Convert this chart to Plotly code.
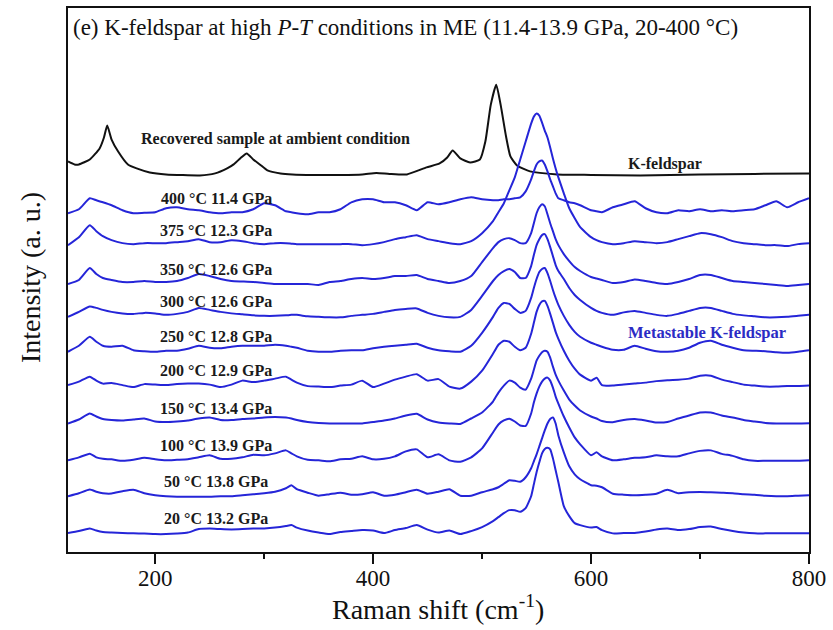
import plotly.graph_objects as go

# Raman shift grid (cm-1) shared by the in-situ spectra
shift = [120, 130, 140, 146, 152, 160, 170, 180, 190, 200,
         210, 220, 230, 240, 250, 260, 270, 280, 290, 300,
         310, 320, 325, 330, 340, 350, 360, 370, 380, 390,
         400, 410, 420, 430, 440, 450, 460, 470, 480, 490,
         500, 510, 515, 520, 525, 530, 535, 540, 545, 547.5,
         550, 552.5, 555, 557.5, 560, 562.5, 565, 567.5, 570, 575,
         580, 585, 590, 600, 605, 610, 620, 630, 640, 650,
         660, 670, 680, 690, 700, 710, 720, 730, 740, 750,
         760, 770, 780, 790, 800]

# In-situ spectra (a.u., baseline at zero)
int_400C = [0, 4, 15, 13, 11, 8, 3, 0, 0.5, 1,
            5, 6, 4, 3, 1, 0, 1, 1, 4, 10,
            8, 2, 1, 0, -1, 1, 1, 4, 11, 14,
            14, 11, 11, 8, 3, 11, 9, 11, 14, 16,
            14, 13, 13, 14, 14, 15, 16, 22, 34, 42,
            49, 52, 53, 49, 42, 34, 27, 20, 15, 13,
            11, 10, 8, 3, 2, 1, 6, 9, 12, 5,
            1, 0, 3, 2, 4, 2, 3, 2, 3, 4,
            8, 12, 6, 11, 15]
int_375C = [0, 8, 20, 14, 9, 5, 2, 1, 2, 2,
            2, 3, 4, 6, 3, 3, 5, 4, 2, 1,
            2, 2, 1.5, 1, 1, 1, 1, 1, 1, 0,
            1, 3, 6, 8, 10, 6, 4, 2, 1, 4,
            12, 24, 33, 42, 55, 68, 86, 104, 122, 129,
            132, 130, 123, 115, 108, 98, 87, 77, 68, 52,
            37, 27, 18, 8, 5, 3, 1, 2, 4, 3,
            2, 3, 6, 9, 12, 11, 8, 4, 2, 1,
            0, 0, -1, 1, 2]
int_350C = [0, 4, 16, 10, 6, 4, 2, 2, 3, 2,
            2, 3, 6, 10, 8, 5, 3, 2.5, 2, 1,
            0, 0, 0, 0, 0, -1, 2, 3, 5, 6,
            5, 6, 8, 8, 9, 5, 3, 1, 3, 8,
            22, 36, 42, 45, 46, 44, 41, 41, 51, 61,
            71, 77, 80, 78, 70, 61, 53, 45, 39, 30,
            23, 17, 13, 7, 5.5, 4, 1, 2, 4.5, 3,
            1, 0, 2, 5, 9, 9, 6, 3, 2, 1,
            0, -1, -2, -1, 0]
int_300C = [0, 5, 10.5, 9, 7, 5, 3.5, 3, 4, 3.5,
            2, 3, 5, 9, 7, 5, 3.5, 2.5, 1.5, 1,
            1, 1.5, 2, 2, 0.5, 0, -0.5, -0.5, 1, 2,
            3, 5, 7, 8, 8.5, 4, 1, -0.5, 0, 7,
            21, 36, 42, 46, 48, 45, 39, 39, 51, 62,
            72, 78, 82, 83, 78, 70, 61, 52, 46, 38,
            29, 22, 17, 9, 6, 4, 2, 4.5, 6, 4,
            2, 1, 3, 6, 9, 9, 6, 3, 1.5, 0.5,
            -0.5, -0.5, 0, 1, 2]
int_250C = [0, 6, 15, 10, 6, 5, 6, 1.5, 0.5, 0,
            1, 1, 3, 6, 4, 3.5, 5, 6, 6, 6,
            7, 6, 5, 4, 1, 0, 0, 1, 1.5, 1.5,
            3.5, 5, 6, 7, 8, 4, 1.5, 0.5, 0, 6,
            19, 35, 44, 49, 48, 43, 39, 41, 54, 64,
            73, 80, 83, 84, 79, 71, 62, 54, 47, 36,
            27, 20, 15, 9, 7, 5, 2, 2, 6, 3,
            0.5, 0, 1, 4, 9, 11, 7, 4, 1.5, 1,
            0.5, -0.5, -1, 0, 1.5]
int_200C = [0.5, 4, 9, 5, 2, 2.5, 0.5, -1.5, 1.5, 1,
            0.5, 1.5, 2, 2, 1, -1.5, 1, 5, 3.5, 5,
            7, 9, 6, 3, -0.5, -1, -1.5, 0, 1, 5,
            -1.5, 2, 6, 9, 11.5, 5, 6.5, -1, -3, 4,
            15, 32, 41, 45, 44, 39, 35.5, 38, 52, 63,
            74, 81, 84.5, 85, 80, 72, 63, 54, 47, 35,
            25, 17, 11, 5, 8, 0.5, 0, 1, 2, 3,
            4.5, 5.5, 6, 7, 10, 10, 6, 3.5, 1, 0,
            -1, -1, -0.5, -0.5, 0]
int_150C = [0, 4, 10, 7, 4.5, 3.5, 3, 4, 5, 2,
            1.5, 2, 3, 5, 6, 3.5, 3.5, 4.5, 5, 6,
            6.5, 6, 5, 3.5, 1.5, 0.5, 0, 0, 0, 0,
            1.5, 3, 5, 8, 9.7, 4, 1, 0, -0.5, 5,
            11, 22, 31, 38, 43, 41, 36, 34, 45, 54,
            63, 68, 71.5, 73, 72, 66, 57, 49, 43, 33,
            24, 18, 13, 7, 5, 2.5, 1.3, 3.5, 4.5, 3,
            1, 1.5, 5, 8, 11, 11, 8, 6, 3.5, 2,
            0.5, 0, 0, 0, 0.3]
int_100C = [0, 3, 6.7, 3, 1.5, 1, -0.5, 0.5, 2.5, 1,
            0, 0.5, 1, 3, 5, 1.5, 1.5, 3, 5.5, 5,
            7, 10, 7, 4, 0.5, 0, -1, 1, 1.5, 4,
            1, 1.5, 4, 9, 11, 3, 6, 0, -1.5, 3,
            12, 28, 36, 40, 41.7, 39, 35, 34.5, 47, 58,
            67, 74, 79, 82, 83, 80, 73, 64, 57, 44,
            33, 23, 16, 5, 8, 4, 0, 1, 2.5, 3,
            5, 4, 4, 7, 9.5, 10, 6.5, 4.5, 1, -0.5,
            -0.5, -0.5, -0.5, -0.5, 0]
int_50C = [0, 3, 6.7, 4.5, 3, 2.7, 5, 6.5, 3, 1,
           0, -0.5, -0.5, -0.5, -0.5, 0, 0, 1, 2, 3,
           4.5, 8, 11, 7, 3.5, 0.5, 2, 3.5, 1.5, 2,
           4, 0.5, 1.5, 4, 6.5, 2.5, 4.5, 7, 0.5, 0.5,
           4, 7, 9, 12.5, 16, 15.5, 14.5, 19, 28, 35,
           42, 50, 58, 66, 73, 77.5, 79, 73, 61, 44,
           30, 22, 17, 11, 10.5, 9, 2.5, 1.5, 1, 1.5,
           2.5, 6.5, 3, 4, 4.3, 4, 3.5, 3, 2, 1.5,
           0.5, 0, 0, 0.5, 1]
int_20C = [0, 2, 4.7, 2.5, 1, 0.5, 0, -0.3, -0.5, -1,
           -1, -0.5, 0.5, 4, 4.5, 4, 3.7, 4, 4.5, 4.7,
           5.5, 7, 8, 5.5, 2.5, 0.5, -1, 1, 2, 3,
           2.5, 0, 3, 5, 8, 3.5, 0.5, 2.5, -1, 2,
           6, 12, 16, 20, 23, 23, 21.3, 25, 37, 49,
           61, 71, 80, 84.5, 85.7, 84, 75, 63, 51, 27,
           17, 10, 8, 5.5, 6, 3, -0.3, 0, 0, 1.5,
           3.5, 4.5, 3, 4, 6, 6.5, 4, 2, 0.5, -0.3,
           -0.3, -0.3, -0.3, -0.3, -0.3]

spectra = [int_400C, int_375C, int_350C, int_300C, int_250C,
           int_200C, int_150C, int_100C, int_50C, int_20C]
labels = ["400 °C 11.4 GPa", "375 °C 12.3 GPa", "350 °C 12.6 GPa",
          "300 °C 12.6 GPa", "250 °C 12.8 GPa", "200 °C 12.9 GPa",
          "150 °C 13.4 GPa", "100 °C 13.9 GPa", "50 °C 13.8 GPa",
          "20 °C 13.2 GPa"]
# vertical stacking offsets (a.u.)
offsets = [340, 308, 269, 236, 201, 167, 129, 92, 56, 19]

# Recovered sample measured at ambient condition
shift_rec = [120, 126, 130, 140, 149, 153, 156, 160, 166, 175,
             183, 195, 210, 241, 255, 266, 272, 278, 284, 290,
             296, 303, 315, 326, 345, 370, 390, 403, 415, 431,
             449, 461, 468, 473, 480, 489, 498, 503, 508, 513,
             517, 522, 526, 532, 544, 569, 600, 645, 700, 750, 800]
int_rec = [14, 11, 11, 16, 27, 38, 50, 36, 24, 11,
           7, 3, 1, 0, 2, 7, 11, 17, 22, 16,
           11, 5, 2, 1, 0.5, 0.5, 1, 2.5, 1.5, 1,
           8, 12, 18, 25, 17, 13, 16, 34, 71, 91,
           71, 39, 19, 10, 4, 1, 0.5, 0, 1, 1.5, 2]
offset_rec = 378

SERIF = "Liberation Serif, Times New Roman, serif"
BLUE = "#2525d8"
LABEL_X = 256

fig = go.Figure()

fig.add_trace(go.Scatter(
    x=shift_rec, y=[v + offset_rec for v in int_rec], mode="lines",
    line=dict(color="#111111", width=2, shape="spline", smoothing=0.5),
    showlegend=False, hoverinfo="skip"))

for lab, ints, off in zip(labels, spectra, offsets):
    fig.add_trace(go.Scatter(
        x=shift, y=[v + off for v in ints], mode="lines",
        line=dict(color=BLUE, width=2, shape="spline", smoothing=0.5),
        showlegend=False, hoverinfo="skip"))
    fig.add_annotation(
        x=LABEL_X, y=off + 15, text="<b>" + lab + "</b>", showarrow=False,
        xanchor="center", yanchor="middle",
        font=dict(family=SERIF, size=16, color="#1a1a1a"))

fig.add_annotation(
    x=310, y=offset_rec + 37, text="<b>Recovered sample at ambient condition</b>",
    showarrow=False, xanchor="center", yanchor="middle",
    font=dict(family=SERIF, size=16, color="#1a1a1a"))
fig.add_annotation(
    x=668, y=offset_rec + 11, text="<b>K-feldspar</b>", showarrow=False,
    xanchor="center", yanchor="middle",
    font=dict(family=SERIF, size=16, color="#1a1a1a"))
fig.add_annotation(
    x=706, y=220, text="<b>Metastable K-feldspar</b>", showarrow=False,
    xanchor="center", yanchor="middle",
    font=dict(family=SERIF, size=16.5, color="#2b2bc4"))

# panel title inside the frame
fig.add_annotation(
    xref="paper", yref="paper", x=0.004, y=0.965, xanchor="left", yanchor="middle",
    text="(e) K-feldspar at high <i>P</i>-<i>T</i> conditions in ME (11.4-13.9 GPa, 20-400 °C)",
    showarrow=False, font=dict(family=SERIF, size=23, color="#111111"))

# axis titles
fig.add_annotation(
    xref="paper", yref="paper", x=0.4993, y=-0.1026, xanchor="center", yanchor="middle",
    text="Raman shift (cm<sup>-1</sup>)", showarrow=False,
    font=dict(family=SERIF, size=28, color="#111111"))
fig.add_annotation(
    xref="paper", yref="paper", x=-0.0513, y=0.5055, xanchor="center", yanchor="middle",
    text="Intensity (a. u.)", textangle=-90, showarrow=False,
    font=dict(family=SERIF, size=28, color="#111111"))

fig.update_xaxes(
    range=[120, 800], tickvals=[200, 400, 600, 800], ticks="outside",
    ticklen=10, tickwidth=2, tickcolor="#111111", ticklabelstandoff=-6,
    minor=dict(ticks="outside", ticklen=5, tickwidth=2, tickcolor="#111111",
               tickvals=[300, 500, 700]),
    showline=True, linewidth=2, linecolor="#111111", mirror=True,
    showgrid=False, zeroline=False,
    tickfont=dict(family=SERIF, size=23, color="#111111"))
fig.update_yaxes(
    range=[0, 546], showticklabels=False, ticks="",
    showline=True, linewidth=2, linecolor="#111111", mirror=True,
    showgrid=False, zeroline=False)

fig.update_layout(
    width=833, height=630,
    margin=dict(l=68, r=24, t=6, b=78),
    plot_bgcolor="white", paper_bgcolor="white")

fig.write_html("out.html")
